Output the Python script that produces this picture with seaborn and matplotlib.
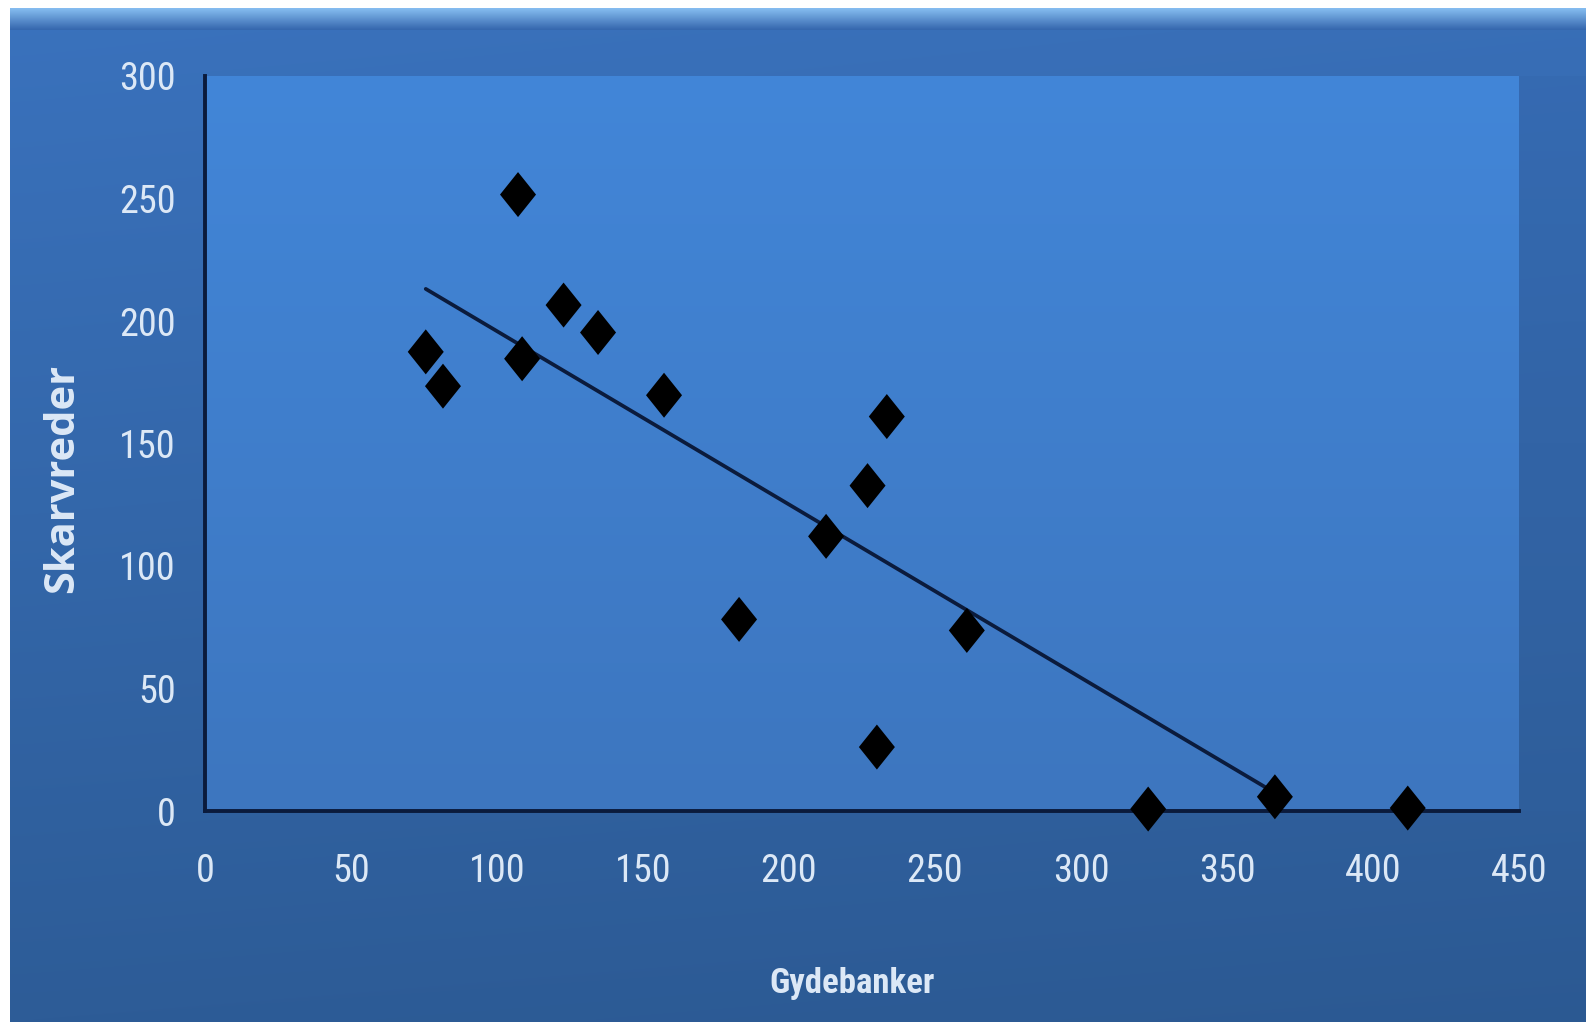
import numpy as np
import pandas as pd
import matplotlib
matplotlib.use("Agg")
import matplotlib.pyplot as plt
from matplotlib import font_manager
from matplotlib.path import Path
from matplotlib.colors import to_rgb
import seaborn as sns

# Spawning banks vs. cormorant colonies
gydebanker = [75.6, 81.5, 107.2, 108.6, 122.8, 134.6, 157.2, 182.9,
              212.7, 226.9, 233.5, 230.1, 260.9, 323.0, 366.4, 411.9]
skarvreder = [187.4, 173.4, 251.6, 184.6, 206.5, 195.3, 169.7, 78.2,
              112.1, 132.8, 161.0, 26.1, 73.7, 0.8, 5.8, 1.2]

# Linear trend line end points
trend_x = [75.6, 366.4]
trend_y = [213.1, 7.4]

x_ticks = [0, 50, 100, 150, 200, 250, 300, 350, 400, 450]
y_ticks = [0, 50, 100, 150, 200, 250, 300]

sns.set_theme(style="white")

installed = {f.name for f in font_manager.fontManager.ttflist}


def pick(cands):
    return next((f for f in cands if f in installed), "DejaVu Sans")


narrow = pick(["Liberation Sans Narrow", "Roboto Condensed",
               "Open Sans Condensed", "Lato", "Roboto"])
wide = pick(["Open Sans", "Lato", "Noto Sans"])
plt.rcParams["font.family"] = [narrow, "DejaVu Sans"]

W, H = 1589, 1027
fig = plt.figure(figsize=(W / 100, H / 100), dpi=100, facecolor="white")

# Background panel with vertical blue gradient
bg = fig.add_axes([0, 0, 1, 1], zorder=-10)
bg.set_xlim(0, W)
bg.set_ylim(H, 0)
bg.axis("off")


def gradient(c_top, c_bot, n=256, horiz=None):
    t = np.linspace(0, 1, n)[:, None]
    top = np.array(to_rgb(c_top))
    bot = np.array(to_rgb(c_bot))
    img = top[None, None, :] * (1 - t[..., None]) + bot[None, None, :] * t[..., None]
    img = np.repeat(img, 64, axis=1)
    if horiz is not None:
        s = np.linspace(1.0, horiz, 64)[None, :, None]
        img = np.clip(img * s, 0, 1)
    return img


bg.imshow(gradient("#3a72bd", "#2d5c97", horiz=0.97), extent=[10, 1586, 1022, 8],
          aspect="auto", interpolation="bicubic")
# bevel highlight on top edge
bg.imshow(gradient("#86bdf0", "#3567ae", n=32), extent=[10, 1586, 30, 8],
          aspect="auto", interpolation="bicubic")
# darker strip just right of the plot area
bg.imshow(gradient("#3569b0", "#2f5f9c"), extent=[1519, 1586, 811, 76],
          aspect="auto", interpolation="bicubic", alpha=0.6)

ax = fig.add_axes([205 / W, 1 - 811 / H, (1519 - 205) / W, (811 - 76) / H])
ax.set_facecolor("none")
ax.imshow(gradient("#4286d8", "#3d76bf"), extent=[0, 450, 0, 300],
          aspect="auto", interpolation="bicubic", zorder=0)

diamond = Path([(0, 1), (0.8, 0), (0, -1), (-0.8, 0), (0, 1)],
               [Path.MOVETO, Path.LINETO, Path.LINETO, Path.LINETO, Path.CLOSEPOLY])

df = pd.DataFrame({"Gydebanker": gydebanker, "Skarvreder": skarvreder})
trend = pd.DataFrame({"x": trend_x, "y": trend_y})

sns.lineplot(data=trend, x="x", y="y", ax=ax, color="#0b1b3c", linewidth=2.7,
             zorder=3, legend=False)
sns.scatterplot(data=df, x="Gydebanker", y="Skarvreder", ax=ax, marker=diamond,
                s=1050, color="black", edgecolor="none", zorder=4, legend=False,
                clip_on=False)

ax.set_xlim(0, 450)
ax.set_ylim(0, 300)
ax.set_xticks(x_ticks)
ax.set_yticks(y_ticks)

label_color = "#dce8f6"
ax.tick_params(axis="both", direction="out", length=8, width=2.2,
               color="#0b1b3c", labelcolor=label_color, labelsize=27.5)
ax.tick_params(axis="x", pad=22)
ax.tick_params(axis="y", pad=13)

for side in ["top", "right"]:
    ax.spines[side].set_visible(False)
for side in ["left", "bottom"]:
    ax.spines[side].set_color("#0b1b3c")
    ax.spines[side].set_linewidth(2.8)

ax.set_xlabel("Gydebanker", color=label_color, fontsize=25, fontweight="bold")
ax.set_ylabel("Skarvreder", color=label_color, fontsize=30, fontweight="bold",
              family=[wide, "DejaVu Sans"])
ax.xaxis.label.set_va("center")
ax.yaxis.label.set_va("center")
ax.xaxis.set_label_coords((852 - 205) / 1314, (811 - 983) / 735)
ax.yaxis.set_label_coords((63 - 205) / 1314, (811 - 478) / 735)

fig.savefig("out.png", dpi=100, facecolor="white")
